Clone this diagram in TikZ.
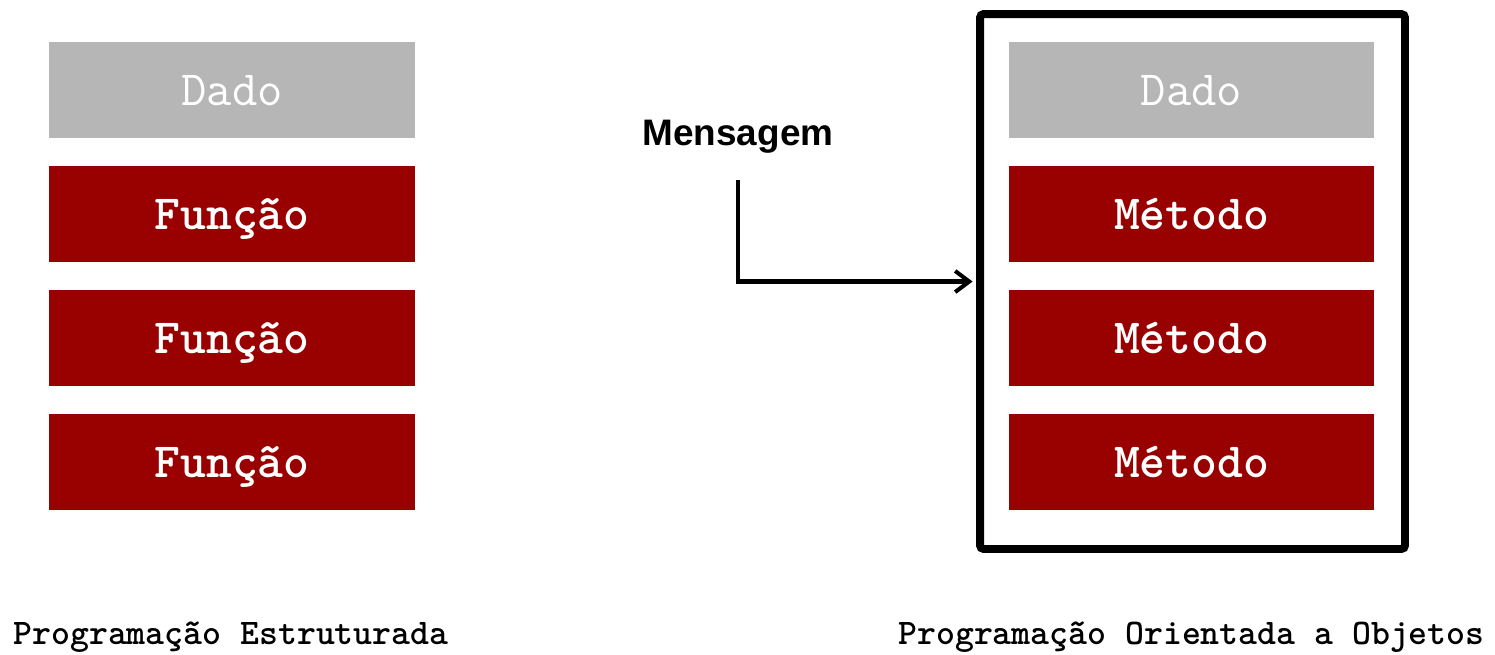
\documentclass[tikz,border=0pt]{standalone}
\usepackage{fontspec}
\setsansfont{Liberation Sans}
\usetikzlibrary{arrows.meta}
\definecolor{dadogray}{HTML}{B6B6B6}
\definecolor{funcred}{HTML}{990000}
\begin{document}
\begin{tikzpicture}[
    x=0.02cm, y=-0.02cm,
    block/.style={rectangle, minimum width=7.32cm, minimum height=1.92cm, inner sep=0pt, text=white, text height=19pt, text depth=1pt},
    dado/.style={block, fill=dadogray, font=\ttfamily\fontsize{28}{32}\selectfont},
    func/.style={block, fill=funcred, font=\ttfamily\bfseries\fontsize{28}{32}\selectfont},
    caption/.style={font=\ttfamily\bfseries\fontsize{20.5}{24}\selectfont},
    every edge/.style={->, >=Stealth}
]
\useasboundingbox (0,0) rectangle (1495,654);

% Programacao estruturada
\node[dado] (d1) at (232,90) {Dado};
\node[func] (f1) at (232,214) {Função};
\node[func] (f2) at (232,338) {Função};
\node[func] (f3) at (232,462) {Função};
\node[caption] (cap1) at (231,637) {Programação Estruturada};

% Objeto
\node[draw, line width=4.5pt, rounded corners=2pt, minimum width=8.5cm, minimum height=10.7cm] (frame) at (1192.5,281.5) {};
\node[dado] (d2) at (1191.5,90) {Dado};
\node[func] (m1) at (1191.5,214) {Método};
\node[func] (m2) at (1191.5,338) {Método};
\node[func] (m3) at (1191.5,462) {Método};
\node[caption] (cap2) at (1191.5,637) {Programação Orientada a Objetos};

% Mensagem
\node[font=\sffamily\bfseries\fontsize{21}{25}\selectfont] (msg) at (738,137) {Mensagem};
\coordinate (msgstart) at (738,180);
\draw[line width=2.3pt, -{Straight Barb[length=8pt, width=12pt]}] (msgstart) |- ([xshift=-2pt]frame.west);

\end{tikzpicture}
\end{document}
